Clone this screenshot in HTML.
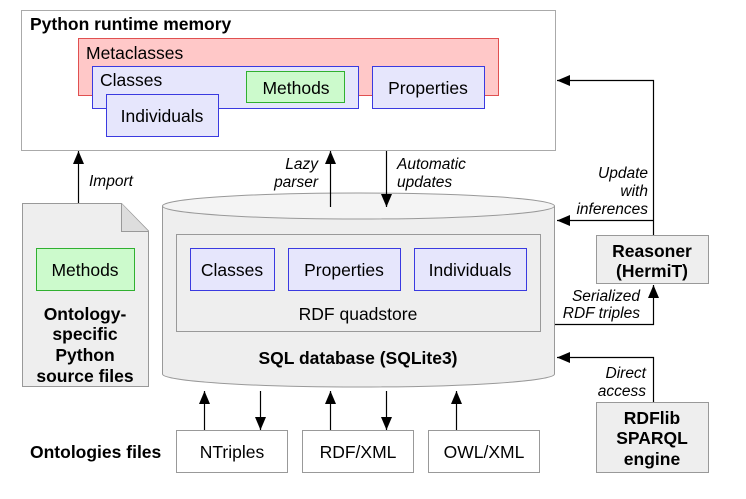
<!DOCTYPE html>
<html><head><meta charset="utf-8"><style>
body{margin:0;background:#fff}
svg text{font-family:"Liberation Sans",sans-serif}
</style></head><body>
<svg width="746" height="494" viewBox="0 0 746 494" xmlns="http://www.w3.org/2000/svg">
<defs><marker id="a" markerWidth="14" markerHeight="12" refX="13" refY="5.5" orient="auto" markerUnits="userSpaceOnUse"><path d="M0,0 L13,5.5 L0,11 z" fill="#000"/></marker></defs>
<g font-size="17.5">
<rect x="21.5" y="10.5" width="534" height="140" fill="#fff" stroke="#aaa"/>
<text x="30" y="30" font-weight="bold">Python runtime memory</text>
<rect x="78.5" y="38.5" width="420" height="57" fill="#ffc8c8" stroke="#e05050"/>
<text x="86" y="59">Metaclasses</text>
<rect x="92.5" y="66.5" width="266" height="42" fill="#e6e6fc" stroke="#3a3ae0"/>
<text x="100" y="86">Classes</text>
<rect x="246.5" y="71.5" width="98" height="31" fill="#ccfacc" stroke="#30b030"/>
<text x="296" y="94" text-anchor="middle">Methods</text>
<rect x="372.5" y="66.5" width="112" height="42" fill="#e6e6fc" stroke="#3a3ae0"/>
<text x="428" y="94" text-anchor="middle">Properties</text>
<rect x="106.5" y="94.5" width="112" height="42" fill="#e6e6fc" stroke="#3a3ae0"/>
<text x="162" y="122" text-anchor="middle">Individuals</text>

<path d="M22.5,203.5 H121.5 L148.5,231 V386.5 H22.5 Z" fill="#eee" stroke="#999"/>
<path d="M121.5,203.5 V231.5 H148.5" fill="#ddd" stroke="#999"/>
<rect x="36.5" y="248.5" width="98" height="42" fill="#ccfacc" stroke="#30b030"/>
<text x="85" y="276" text-anchor="middle">Methods</text>
<g font-weight="bold" text-anchor="middle"><text x="85" y="320">Ontology-</text><text x="85" y="340">specific</text><text x="85" y="361">Python</text><text x="85" y="382">source files</text></g>

<path d="M162.5,206 V374 A196,13 0 0 0 554.5,374 V206" fill="#eee" stroke="#999"/>
<ellipse cx="358.5" cy="206" rx="196" ry="13" fill="#f4f4f4" stroke="#999"/>
<rect x="176.5" y="234.5" width="364" height="97" fill="#eee" stroke="#999"/>
<rect x="190.5" y="248.5" width="84" height="42" fill="#e6e6fc" stroke="#3a3ae0"/>
<text x="232" y="276" text-anchor="middle">Classes</text>
<rect x="288.5" y="248.5" width="112" height="42" fill="#e6e6fc" stroke="#3a3ae0"/>
<text x="344" y="276" text-anchor="middle">Properties</text>
<rect x="414.5" y="248.5" width="112" height="42" fill="#e6e6fc" stroke="#3a3ae0"/>
<text x="470" y="276" text-anchor="middle">Individuals</text>
<text x="358" y="320" text-anchor="middle">RDF quadstore</text>
<text x="358" y="364" text-anchor="middle" font-weight="bold">SQL database (SQLite3)</text>

<rect x="596.5" y="235.5" width="112" height="48" fill="#eee" stroke="#999"/>
<rect x="596.5" y="402.5" width="112" height="70" fill="#eee" stroke="#999"/>
<g font-weight="bold" text-anchor="middle"><text x="652" y="257">Reasoner</text><text x="652" y="277">(HermiT)</text>
<text x="652" y="424">RDFlib</text><text x="652" y="444">SPARQL</text><text x="652" y="465">engine</text></g>

<text x="30" y="458" font-weight="bold">Ontologies files</text>
<rect x="176.5" y="430.5" width="111" height="42" fill="#fff" stroke="#999"/>
<text x="232" y="458" text-anchor="middle">NTriples</text>
<rect x="302.5" y="430.5" width="111" height="42" fill="#fff" stroke="#999"/>
<text x="358" y="458" text-anchor="middle">RDF/XML</text>
<rect x="428.5" y="430.5" width="111" height="42" fill="#fff" stroke="#999"/>
<text x="484" y="458" text-anchor="middle">OWL/XML</text>
</g>

<g stroke="#000" stroke-width="1.2" fill="none" marker-end="url(#a)">
<path d="M78.5,203 V151"/>
<path d="M330.5,207 V151"/>
<path d="M386.5,151 V207"/>
<path d="M653.5,235 V80.5 H557"/>
<path d="M653.5,220.5 H557"/>
<path d="M555,324.5 H653.5 V285"/>
<path d="M653.5,402 V357.5 H557"/>
<path d="M204.5,430 V391"/>
<path d="M260.5,391 V430"/>
<path d="M330.5,430 V391"/>
<path d="M386.5,391 V430"/>
<path d="M456.5,430 V391"/>
</g>
<g font-size="15.5" font-style="italic">
<text x="89" y="186">Import</text>
<g text-anchor="end"><text x="318" y="169">Lazy</text><text x="318" y="187">parser</text>
<text x="648" y="178">Update</text><text x="648" y="196">with</text><text x="648" y="214">inferences</text>
<text x="640" y="301">Serialized</text><text x="640" y="318">RDF triples</text>
<text x="646" y="378">Direct</text><text x="646" y="396">access</text></g>
<text x="397" y="169">Automatic</text><text x="397" y="187">updates</text>
</g>
</svg>
</body></html>
